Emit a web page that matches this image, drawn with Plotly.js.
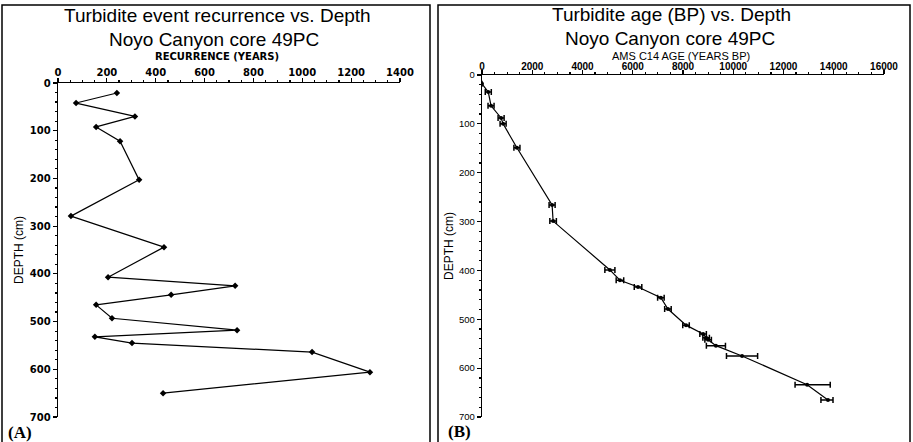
<!DOCTYPE html>
<html>
<head>
<meta charset="utf-8">
<script src="https://cdn.plot.ly/plotly-3.0.1.min.js"></script>
<style>html,body{margin:0;padding:0;background:#fff;}#chart{width:913px;height:442px;}</style>
</head>
<body>
<div id="chart"></div>
<script>
// Panel A: recurrence (years) vs depth (cm)
const recurrence = [241, 74, 315, 156, 254, 332, 53, 434, 205, 725, 463, 156, 221, 733, 151, 303, 1040, 1277, 430];
const recDepth   = [21, 42, 70, 92, 122, 203, 279, 344, 407, 425, 444, 465, 493, 518, 532, 545, 564, 606, 650];

// Panel B: AMS C14 age (years BP) vs depth (cm)
const age       = [0, 250, 360, 760, 840, 1390, 2790, 2830, 5090, 5490, 6210, 7120, 7400, 8120, 8800, 8920, 9000, 9310, 10350, 12940, 13770];
const ageDepth  = [18, 35, 63, 88, 100, 149, 266, 299, 399, 420, 434, 456, 479, 512, 530, 538, 542, 554, 575, 634, 665];
const errPlus   = [0, 120, 120, 120, 120, 120, 120, 130, 200, 150, 150, 130, 130, 130, 130, 130, 130, 380, 620, 920, 200];
const errMinus  = [0, 120, 120, 120, 120, 120, 120, 130, 200, 150, 150, 130, 130, 130, 130, 130, 130, 380, 620, 480, 280];

const W = 913, H = 442;
const px = x => x / W;
const py = y => 1 - y / H;

const traceA = {
  x: recurrence, y: recDepth, xaxis: 'x', yaxis: 'y',
  mode: 'lines+markers', type: 'scatter',
  line: {color: '#000', width: 1.2},
  marker: {color: '#000', size: 5, symbol: 'diamond'},
  hoverinfo: 'none'
};
const traceB = {
  x: age, y: ageDepth, xaxis: 'x2', yaxis: 'y2',
  mode: 'lines+markers', type: 'scatter',
  line: {color: '#000', width: 1.2},
  marker: {color: '#000', size: 4},
  error_x: {type: 'data', symmetric: false, array: errPlus, arrayminus: errMinus,
            color: '#000', thickness: 1.5, width: 3},
  hoverinfo: 'none'
};

const tfA = {family: 'DejaVu Sans', size: 10, color: '#000', weight: 'bold'};
const tfB = {family: 'Liberation Sans', size: 10, color: '#000', weight: 'bold'};

const common = {
  showline: true, linecolor: '#000', linewidth: 1.3, showgrid: false, zeroline: false,
  ticks: 'outside', ticklen: 4, tickwidth: 1.2, tickcolor: '#000', fixedrange: true,
  exponentformat: 'none', separatethousands: false, tickformat: 'd'
};

const layout = {
  width: W, height: H,
  margin: {l: 0, r: 0, t: 0, b: 0},
  paper_bgcolor: '#fff', plot_bgcolor: '#fff',
  showlegend: false,
  xaxis: Object.assign({}, common, {
    domain: [px(58), px(400)], range: [0, 1400], side: 'top', anchor: 'y',
    dtick: 200, tick0: 0, tickfont: tfA, ticklabelstandoff: -2,
    minor: {dtick: 50, ticks: 'outside', ticklen: 2, tickcolor: '#000'}
  }),
  yaxis: Object.assign({}, common, {
    domain: [py(417), py(83)], range: [700, 0], anchor: 'x',
    dtick: 100, tick0: 0, tickfont: tfA,
    minor: {dtick: 20, ticks: 'outside', ticklen: 2, tickcolor: '#000'}
  }),
  xaxis2: Object.assign({}, common, {
    domain: [px(482), px(884)], range: [0, 16000], side: 'top', anchor: 'y2',
    dtick: 2000, tick0: 0, tickfont: tfB, ticklabelstandoff: -4,
    minor: {dtick: 500, ticks: 'outside', ticklen: 2, tickcolor: '#000'}
  }),
  yaxis2: Object.assign({}, common, {
    domain: [py(417), py(75)], range: [700, 0], anchor: 'x2',
    dtick: 100, tick0: 0, tickfont: {family: 'Liberation Sans', size: 9.5, color: '#000'},
    minor: {dtick: 20, ticks: 'outside', ticklen: 2, tickcolor: '#000'}
  }),
  shapes: [
    {type: 'rect', xref: 'paper', yref: 'paper', x0: px(2), x1: px(430), y0: -0.05, y1: py(5),
     line: {color: '#000', width: 1.5}},
    {type: 'rect', xref: 'paper', yref: 'paper', x0: px(438), x1: px(910), y0: -0.05, y1: py(5),
     line: {color: '#000', width: 1.5}}
  ],
  annotations: [
    {text: 'Turbidite event recurrence vs. Depth', x: px(217), y: py(16)},
    {text: 'Noyo Canyon core 49PC', x: px(214), y: py(39)},
    {text: 'Turbidite age (BP) vs. Depth', x: px(671), y: py(15)},
    {text: 'Noyo Canyon core 49PC', x: px(670), y: py(38)}
  ].map(a => Object.assign({xref: 'paper', yref: 'paper', showarrow: false,
    xanchor: 'center', yanchor: 'middle', font: {family: 'Liberation Sans', size: 19, color: '#000'}}, a))
  .concat([
    {text: 'RECURRENCE (YEARS)', x: px(217), y: py(57), xref: 'paper', yref: 'paper', showarrow: false,
     xanchor: 'center', yanchor: 'middle', font: {family: 'DejaVu Sans', size: 10, color: '#000', weight: 'bold'}},
    {text: 'AMS C14 AGE (YEARS BP)', x: px(681), y: py(55.5), xref: 'paper', yref: 'paper', showarrow: false,
     xanchor: 'center', yanchor: 'middle', font: {family: 'Liberation Sans', size: 11, color: '#000'}},
    {text: 'DEPTH (cm)', x: px(19), y: py(250), xref: 'paper', yref: 'paper', showarrow: false, textangle: -90,
     xanchor: 'center', yanchor: 'middle', font: {family: 'Liberation Sans', size: 12, color: '#000'}},
    {text: 'DEPTH (cm)', x: px(449), y: py(246), xref: 'paper', yref: 'paper', showarrow: false, textangle: -90,
     xanchor: 'center', yanchor: 'middle', font: {family: 'Liberation Sans', size: 12, color: '#000'}},
    {text: '<b>(A)</b>', x: px(20), y: py(432), xref: 'paper', yref: 'paper', showarrow: false,
     xanchor: 'center', yanchor: 'middle', font: {family: 'Liberation Serif', size: 17, color: '#000'}},
    {text: '<b>(B)</b>', x: px(459), y: py(431), xref: 'paper', yref: 'paper', showarrow: false,
     xanchor: 'center', yanchor: 'middle', font: {family: 'Liberation Serif', size: 17, color: '#000'}}
  ])
};

Plotly.newPlot('chart', [traceA, traceB], layout, {staticPlot: true, displayModeBar: false});
</script>
</body>
</html>
